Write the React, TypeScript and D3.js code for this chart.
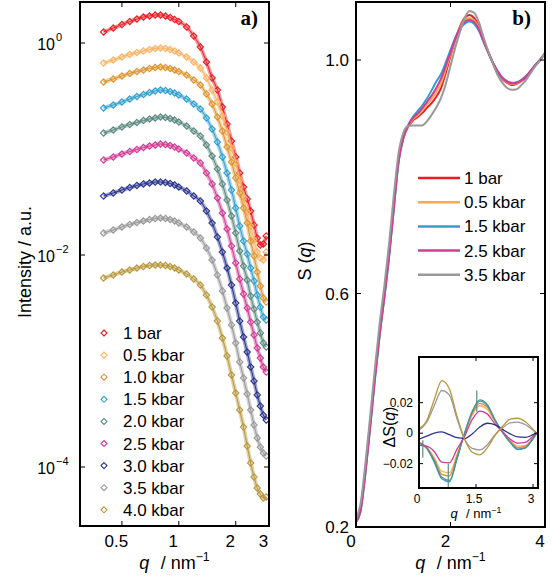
import React, { useEffect, useRef } from 'react';
import * as d3 from 'd3';

// ---- panel a: SAXS intensity, log-log
const pressures = ['1 bar', '0.5 kbar', '1.0 kbar', '1.5 kbar', '2.0 kbar', '2.5 kbar', '3.0 kbar', '3.5 kbar', '4.0 kbar'];
const colorsA = ['#ec1c24', '#fbb365', '#de9530', '#32a0cf', '#5d8a80', '#d33b94', '#2b3590', '#999999', '#b9973d'];

const qSaxs = [0.4, 0.45, 0.5, 0.55, 0.6, 0.65, 0.7, 0.75, 0.8, 0.85, 0.9, 0.95, 1.0, 1.1, 1.2, 1.3, 1.4, 1.5, 1.6, 1.7, 1.8, 1.9, 2.0, 2.1, 2.2, 2.3, 2.4, 2.5, 2.6, 2.7, 2.8, 2.9];

const int1bar = [1.27, 1.385, 1.494, 1.596, 1.684, 1.759, 1.798, 1.837, 1.837, 1.798, 1.74, 1.666, 1.596, 1.415, 1.164, 0.917, 0.662, 0.468, 0.36, 0.249, 0.172, 0.119, 0.0841, 0.0594, 0.0438, 0.0338, 0.026, 0.0192, 0.01446, 0.01242, 0.0127, 0.0151];
const int05kbar = [0.647, 0.691, 0.738, 0.779, 0.814, 0.84, 0.868, 0.887, 0.897, 0.887, 0.868, 0.84, 0.805, 0.738, 0.662, 0.581, 0.468, 0.36, 0.2775, 0.2048, 0.1447, 0.1022, 0.0738, 0.051, 0.0352, 0.02545, 0.01877, 0.01385, 0.01067, 0.00937, 0.00897, 0.01067];
const int10kbar = [0.4287, 0.4575, 0.4884, 0.5155, 0.5383, 0.5562, 0.5746, 0.5873, 0.5937, 0.5873, 0.5746, 0.5562, 0.5383, 0.4991, 0.4477, 0.4016, 0.3303, 0.2658, 0.2004, 0.1478, 0.1044, 0.0754, 0.0533, 0.0385, 0.02775, 0.02004, 0.01355, 0.00979, 0.00691, 0.0051, 0.00393, 0.0036];
const int15kbar = [0.2437, 0.26, 0.2776, 0.2963, 0.3128, 0.3267, 0.3412, 0.3525, 0.3602, 0.3563, 0.3487, 0.3375, 0.3232, 0.2963, 0.2658, 0.2384, 0.1961, 0.1544, 0.1164, 0.0841, 0.0594, 0.041, 0.02776, 0.01877, 0.01355, 0.01022, 0.00754, 0.00569, 0.00419, 0.00323, 0.0026, 0.00244];
const int20kbar = [0.1416, 0.1511, 0.1612, 0.1702, 0.1778, 0.1857, 0.1919, 0.1961, 0.2004, 0.1982, 0.194, 0.1878, 0.1797, 0.1648, 0.1478, 0.1326, 0.1091, 0.0859, 0.0648, 0.0468, 0.033, 0.02333, 0.01613, 0.01091, 0.00787, 0.00581, 0.0041, 0.00309, 0.00233, 0.00184, 0.00148, 0.001356];
const int25kbar = [0.0787, 0.0841, 0.0897, 0.0947, 0.0989, 0.1033, 0.1067, 0.1091, 0.1115, 0.1103, 0.1079, 0.1044, 0.1, 0.0917, 0.0823, 0.0738, 0.0594, 0.0468, 0.0345, 0.0249, 0.01759, 0.01216, 0.00841, 0.00594, 0.00429, 0.003162, 0.00233, 0.00176, 0.001326, 0.001067, 0.000878, 0.000787];
const int30kbar = [0.036, 0.0385, 0.041, 0.0433, 0.0453, 0.0468, 0.0478, 0.0488, 0.0488, 0.0483, 0.0473, 0.0458, 0.0438, 0.0402, 0.036, 0.0323, 0.026, 0.02, 0.01478, 0.01067, 0.00754, 0.00521, 0.00352, 0.00238, 0.001684, 0.001216, 0.000878, 0.000648, 0.000478, 0.000376, 0.000309, 0.000278];
const int35kbar = [0.01613, 0.01721, 0.01837, 0.0194, 0.02025, 0.02093, 0.02162, 0.0221, 0.02234, 0.0221, 0.02162, 0.02093, 0.02004, 0.01837, 0.01648, 0.01446, 0.01164, 0.00897, 0.00648, 0.00458, 0.003162, 0.00219, 0.001478, 0.000979, 0.000691, 0.000488, 0.000345, 0.000249, 0.000188, 0.000154, 0.0001356, 0.000127];
const int40kbar = [0.00607, 0.00648, 0.00691, 0.00722, 0.00754, 0.00779, 0.00796, 0.00805, 0.00805, 0.00796, 0.00779, 0.00754, 0.00722, 0.00662, 0.00594, 0.00521, 0.00419, 0.00323, 0.00238, 0.001648, 0.001115, 0.000738, 0.000499, 0.000345, 0.000238, 0.0001578, 0.0001091, 0.0000805, 0.0000634, 0.0000556, 0.000051, 0.0000521];

const intensities = [int1bar, int05kbar, int10kbar, int15kbar, int20kbar, int25kbar, int30kbar, int35kbar, int40kbar];
const xTicksA = [0.5, 1, 2, 3];
const yTicksA = [1, 1e-2, 1e-4];
const yTickExpA = ['0', '\u22122', '\u22124'];

// ---- panel b: structure factor
const pressuresB = ['1 bar', '0.5 kbar', '1.5 kbar', '2.5 kbar', '3.5 kbar'];
const colorsB = ['#ec1c24', '#f8a954', '#32a0cf', '#d33b94', '#999999'];
const qSq = d3.range(0, 4.05, 0.1);
const sq1bar = [0.212, 0.235, 0.3, 0.378, 0.46, 0.535, 0.6, 0.67, 0.752, 0.829, 0.866, 0.885, 0.896, 0.902, 0.909, 0.918, 0.926, 0.937, 0.952, 0.978, 1.007, 1.034, 1.057, 1.072, 1.077, 1.072, 1.058, 1.034, 1.014, 0.995, 0.979, 0.967, 0.961, 0.957, 0.959, 0.964, 0.971, 0.981, 0.991, 1.0, 1.012];
const sq05kbar = [0.211, 0.233, 0.297, 0.375, 0.457, 0.532, 0.597, 0.667, 0.749, 0.827, 0.866, 0.886, 0.898, 0.905, 0.913, 0.923, 0.933, 0.945, 0.96, 0.984, 1.01, 1.035, 1.055, 1.068, 1.072, 1.068, 1.055, 1.033, 1.013, 0.995, 0.98, 0.968, 0.962, 0.959, 0.96, 0.965, 0.972, 0.981, 0.991, 1.0, 1.012];
const sq15kbar = [0.208, 0.228, 0.292, 0.37, 0.452, 0.527, 0.592, 0.662, 0.744, 0.824, 0.866, 0.888, 0.902, 0.912, 0.922, 0.934, 0.948, 0.963, 0.976, 0.996, 1.017, 1.038, 1.053, 1.062, 1.066, 1.062, 1.05, 1.031, 1.012, 0.995, 0.981, 0.97, 0.964, 0.961, 0.962, 0.966, 0.973, 0.982, 0.992, 1.001, 1.012];
const sq25kbar = [0.209, 0.23, 0.294, 0.372, 0.454, 0.529, 0.594, 0.664, 0.746, 0.826, 0.866, 0.887, 0.9, 0.908, 0.917, 0.928, 0.939, 0.952, 0.968, 0.99, 1.013, 1.036, 1.054, 1.065, 1.069, 1.065, 1.053, 1.032, 1.013, 0.995, 0.98, 0.969, 0.963, 0.96, 0.961, 0.965, 0.972, 0.982, 0.992, 1.001, 1.012];
const sq35kbar = [0.215, 0.242, 0.31, 0.39, 0.472, 0.548, 0.613, 0.685, 0.768, 0.84, 0.875, 0.887, 0.888, 0.888, 0.888, 0.895, 0.906, 0.919, 0.935, 0.959, 0.99, 1.021, 1.048, 1.072, 1.084, 1.081, 1.065, 1.039, 1.015, 0.993, 0.974, 0.961, 0.952, 0.949, 0.95, 0.957, 0.966, 0.978, 0.99, 1.0, 1.012];
const structureFactors = [sq1bar, sq05kbar, sq15kbar, sq25kbar, sq35kbar];
const xTicksB = [0, 2, 4];
const yTicksB = [0.2, 0.6, 1.0];

// ---- inset: difference S(q)
const qDelta = [0, 0.2, 0.4, 0.6, 0.8, 1.0, 1.2, 1.4, 1.6, 1.8, 2.0, 2.2, 2.4, 2.6, 2.8, 3.0, 3.1];
const dS05 = [-0.0058, -0.009, -0.016, -0.025, -0.026, -0.014, -0.0005, 0.012, 0.018, 0.0155, 0.0075, 0.0008, -0.005, -0.0085, -0.008, -0.003, 0];
const dS10 = [-0.006, -0.0093, -0.017, -0.027, -0.028, -0.015, -0.0002, 0.013, 0.0195, 0.017, 0.008, 0.0006, -0.0055, -0.0095, -0.0085, -0.0032, 0];
const dS15 = [-0.0065, -0.01, -0.019, -0.03, -0.032, -0.017, 0, 0.014, 0.021, 0.018, 0.0085, 0.0005, -0.006, -0.0105, -0.0095, -0.0035, 0];
const dS20 = [-0.0062, -0.0095, -0.018, -0.029, -0.031, -0.0165, 0, 0.0142, 0.0218, 0.0186, 0.0087, 0.0005, -0.0062, -0.0108, -0.0097, -0.0035, 0];
const dS25 = [-0.008, -0.0085, -0.012, -0.019, -0.0195, -0.0105, -0.002, 0.009, 0.0145, 0.0125, 0.006, 0.001, -0.004, -0.0065, -0.006, -0.002, 0];
const dS30 = [-0.004, -0.002, 0, 0.0008, -0.001, -0.003, -0.0035, -0.0005, 0.004, 0.0065, 0.0055, 0.0025, -0.0005, -0.0025, -0.0028, -0.001, 0];
const dS35 = [0.002, 0.007, 0.018, 0.028, 0.025, 0.0095, -0.004, -0.01, -0.011, -0.0075, -0.001, 0.0035, 0.0068, 0.0072, 0.0055, 0.002, 0];
const dS40 = [0.003, 0.008, 0.022, 0.0345, 0.029, 0.011, -0.004, -0.0125, -0.0142, -0.0095, -0.0015, 0.0045, 0.0092, 0.0098, 0.0075, 0.0025, 0];
const deltas = [dS05, dS10, dS15, dS20, dS25, dS30, dS35, dS40];
const colorsDelta = ['#fbb365', '#de9530', '#32a0cf', '#4f8f8f', '#d33b94', '#2b3590', '#999999', '#b9973d'];
const errQ = [0.1, 0.77, 1.52];
const errLo = [-0.016, -0.036, 0.014];
const errHi = [-0.0046, -0.02, 0.028];
const xTicksI = [0, 1.5, 3];
const yTicksI = [-0.02, 0, 0.02];

const FONT = "'Liberation Sans', Arial, Helvetica, sans-serif";

const App = () => {
    const svgRef = useRef<SVGSVGElement>(null);

    useEffect(() => {
        const svg = d3.select(svgRef.current);
        svg.selectAll('*').remove();
        svg.attr('font-family', FONT);

        const frame = (g: any, l: number, t: number, r: number, b: number, w = 2) =>
            g.append('rect').attr('x', l).attr('y', t).attr('width', r - l).attr('height', b - t)
                .attr('fill', 'none').attr('stroke', '#000').attr('stroke-width', w);

        const xTicks = (g: any, xs: number[], t: number, b: number, len = 5) => {
            xs.forEach(x => {
                g.append('line').attr('x1', x).attr('x2', x).attr('y1', b).attr('y2', b - len).attr('stroke', '#000');
                g.append('line').attr('x1', x).attr('x2', x).attr('y1', t).attr('y2', t + len).attr('stroke', '#000');
            });
        };
        const yTicks = (g: any, ys: number[], l: number, r: number, len = 5) => {
            ys.forEach(y => {
                g.append('line').attr('y1', y).attr('y2', y).attr('x1', l).attr('x2', l + len).attr('stroke', '#000');
                g.append('line').attr('y1', y).attr('y2', y).attr('x1', r).attr('x2', r - len).attr('stroke', '#000');
            });
        };
        const qTitle = (g: any, x: number, y: number, size: number) => {
            const t = g.append('text').attr('x', x).attr('y', y).attr('text-anchor', 'middle').attr('font-size', size);
            t.append('tspan').attr('font-style', 'italic').text('q');
            t.append('tspan').attr('dx', size * 0.35).text(' / nm');
            t.append('tspan').attr('dy', -size * 0.42).attr('font-size', size * 0.68).text('\u22121');
        };
        const diamond = (r: number) => `M0,${-r}L${r},0L0,${r}L${-r},0Z`;

        // ================= panel a
        const A = { l: 80, r: 269, t: 2, b: 526 };
        const xa = d3.scaleLog().domain([0.3, 3]).range([A.l, A.r]);
        const ya = d3.scaleLog().domain([2.776e-5, 2.437]).range([A.b, A.t]);
        const ga = svg.append('g');

        const lineA = d3.line<[number, number]>()
            .x(d => xa(d[0])).y(d => ya(d[1])).curve(d3.curveMonotoneX);

        intensities.forEach((vals, i) => {
            const pts: [number, number][] = qSaxs.map((q, j) => [q, vals[j]]);
            // fitted curve, drawn broad so the dense run of markers reads as a band
            ga.append('path').attr('d', lineA(pts)).attr('fill', 'none')
                .attr('stroke', colorsA[i]).attr('stroke-width', 4).attr('stroke-opacity', 0.45);
            ga.append('path').attr('d', lineA(pts)).attr('fill', 'none')
                .attr('stroke', colorsA[i]).attr('stroke-width', 1);
            ga.append('g').selectAll('path').data(pts).join('path')
                .attr('transform', d => `translate(${xa(d[0])},${ya(d[1])})`)
                .attr('d', diamond(3.2)).attr('fill', 'none')
                .attr('stroke', colorsA[i]).attr('stroke-width', 1.1);
        });

        frame(ga, A.l, A.t, A.r, A.b);
        xTicks(ga, xTicksA.map(v => xa(v)), A.t, A.b);
        yTicks(ga, yTicksA.map(v => ya(v)), A.l, A.r);

        xTicksA.forEach(v => {
            ga.append('text').attr('x', xa(v) - 5.5).attr('y', 547).attr('text-anchor', 'middle')
                .attr('font-size', 17).text(String(v));
        });
        yTicksA.forEach((v, i) => {
            const y = ya(v);
            ga.append('text').attr('x', 55).attr('y', y + 7).attr('text-anchor', 'end')
                .attr('font-size', 16).text('10');
            ga.append('text').attr('x', 56).attr('y', y - 2).attr('font-size', 11).text(yTickExpA[i]);
        });
        qTitle(ga, (A.l + A.r) / 2, 569, 18);
        ga.append('text').attr('transform', `translate(31,262) rotate(-90)`).attr('text-anchor', 'middle')
            .attr('font-size', 18).text('Intensity / a.u.');
        ga.append('text').attr('x', 258).attr('y', 25).attr('text-anchor', 'end')
            .attr('font-family', "'Liberation Serif', 'Times New Roman', serif").attr('font-weight', 'bold')
            .attr('font-size', 21).text('a)');

        // legend a
        const legA = ga.append('g');
        pressures.forEach((p, i) => {
            const y = 333 + i * 22.1;
            legA.append('path').attr('transform', `translate(104,${y})`).attr('d', diamond(3))
                .attr('fill', 'none').attr('stroke', colorsA[i]).attr('stroke-width', 1.1);
            legA.append('text').attr('x', 123).attr('y', y + 6).attr('font-size', 17).text(p);
        });

        // ================= panel b
        const B = { l: 356, r: 545, t: 2, b: 527 };
        const xb = d3.scaleLinear().domain([0, 4]).range([B.l, B.r]);
        const yb = d3.scaleLinear().domain([0.2, 1.0994]).range([B.b, B.t]);
        const gb = svg.append('g');
        const lineB = d3.line<[number, number]>()
            .x(d => xb(d[0])).y(d => yb(d[1])).curve(d3.curveMonotoneX);

        structureFactors.forEach((vals, i) => {
            const pts: [number, number][] = qSq.map((q, j) => [q, vals[j]]);
            gb.append('path').attr('d', lineB(pts)).attr('fill', 'none')
                .attr('stroke', colorsB[i]).attr('stroke-width', 2);
        });

        frame(gb, B.l, B.t, B.r, B.b);
        xTicks(gb, xTicksB.map(v => xb(v)), B.t, B.b);
        yTicks(gb, yTicksB.map(v => yb(v)), B.l, B.r);
        xTicksB.forEach(v => {
            gb.append('text').attr('x', xb(v) - 5).attr('y', 547).attr('text-anchor', 'middle')
                .attr('font-size', 17).text(String(v));
        });
        yTicksB.forEach(v => {
            gb.append('text').attr('x', 349).attr('y', yb(v) + 6).attr('text-anchor', 'end')
                .attr('font-size', 17).text(v.toFixed(1));
        });
        qTitle(gb, (B.l + B.r) / 2, 569, 18);
        const sLabel = gb.append('text').attr('transform', `translate(311,261) rotate(-90)`)
            .attr('text-anchor', 'middle').attr('font-size', 18);
        sLabel.append('tspan').text('S (');
        sLabel.append('tspan').attr('font-style', 'italic').text('q');
        sLabel.append('tspan').text(')');
        gb.append('text').attr('x', 531).attr('y', 25).attr('text-anchor', 'end')
            .attr('font-family', "'Liberation Serif', 'Times New Roman', serif").attr('font-weight', 'bold')
            .attr('font-size', 21).text('b)');

        // legend b
        pressuresB.forEach((p, i) => {
            const y = 178 + i * 24.2;
            gb.append('line').attr('x1', 418).attr('x2', 460).attr('y1', y).attr('y2', y)
                .attr('stroke', colorsB[i]).attr('stroke-width', 2.5);
            gb.append('text').attr('x', 464).attr('y', y + 6).attr('font-size', 17).text(p);
        });

        // ================= inset
        const I = { l: 419, r: 538, t: 357, b: 488 };
        const xi = d3.scaleLinear().domain([0, 3.13]).range([I.l, I.r]);
        const yi = d3.scaleLinear().domain([-0.036, 0.05]).range([I.b, I.t]);
        const gi = svg.append('g');
        gi.append('rect').attr('x', I.l).attr('y', I.t).attr('width', I.r - I.l).attr('height', I.b - I.t)
            .attr('fill', '#fff');
        const lineI = d3.line<[number, number]>()
            .x(d => xi(d[0])).y(d => yi(d[1])).curve(d3.curveMonotoneX);
        deltas.forEach((vals, i) => {
            const pts: [number, number][] = qDelta.map((q, j) => [q, vals[j]]);
            gi.append('path').attr('d', lineI(pts)).attr('fill', 'none')
                .attr('stroke', colorsDelta[i]).attr('stroke-width', 1.3);
        });
        errQ.forEach((q, i) => {
            gi.append('line').attr('x1', xi(q)).attr('x2', xi(q)).attr('y1', yi(errLo[i])).attr('y2', yi(errHi[i]))
                .attr('stroke', '#5d8a80').attr('stroke-width', 1.2);
        });
        frame(gi, I.l, I.t, I.r, I.b, 2);
        xTicks(gi, xTicksI.map(v => xi(v)), I.t, I.b, 4);
        yTicks(gi, yTicksI.map(v => yi(v)), I.l, I.r, 4);
        xTicksI.forEach(v => {
            gi.append('text').attr('x', xi(v) - 2).attr('y', 503).attr('text-anchor', 'middle')
                .attr('font-size', 12).text(String(v));
        });
        yTicksI.forEach(v => {
            gi.append('text').attr('x', 413).attr('y', yi(v) + 4).attr('text-anchor', 'end')
                .attr('font-size', 12).text(v === 0 ? '0' : (v < 0 ? '\u2212' : '') + Math.abs(v).toFixed(2));
        });
        qTitle(gi, 476, 518, 13);
        const dLabel = gi.append('text').attr('transform', `translate(395,427) rotate(-90)`)
            .attr('text-anchor', 'middle').attr('font-size', 16);
        dLabel.append('tspan').text('\u0394S(');
        dLabel.append('tspan').attr('font-style', 'italic').text('q');
        dLabel.append('tspan').text(')');
    }, []);

    return (
        <svg ref={svgRef} width={553} height={577}
            style={{ position: 'absolute', left: 0, top: 0, background: '#fff' }} />
    );
};

export default App;
